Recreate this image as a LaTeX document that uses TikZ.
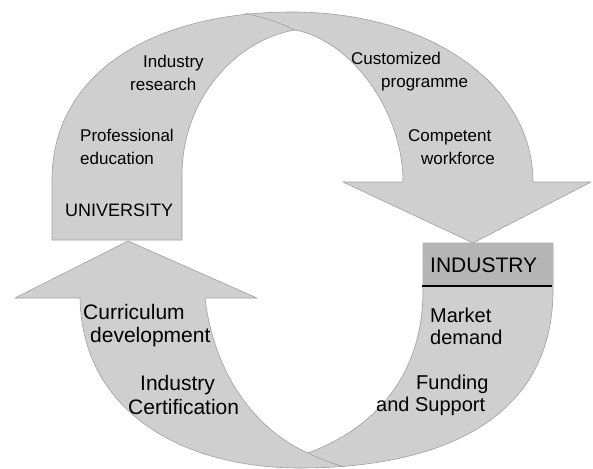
\documentclass[tikz,border=0pt]{standalone}
\usepackage{fontspec}
\setmainfont{Liberation Sans}
\usetikzlibrary{positioning}
\begin{document}
\begin{tikzpicture}[x=1pt,y=-1pt,
    band/.style={fill=gray!38,draw=gray!75,line width=0.6pt,line join=round},
    lbl/.style={anchor=west,align=left,inner sep=0pt,font=\fontsize{17}{23}\selectfont},
    big/.style={anchor=west,align=left,inner sep=0pt,font=\fontsize{20}{22}\selectfont}]
    \useasboundingbox (0,0) rectangle (593,468);

    % upper arrow: university -> industry
    \draw[band] (52,240) -- (52,180) .. controls (52,75) and (150,12) .. (292,12)
        .. controls (430,12) and (533,85) .. (533,182) -- (591,182) -- (473,243)
        -- (343,182) -- (403,182) .. controls (403,110) and (350,40) .. (295,30)
        .. controls (235,40) and (182,100) .. (182,175) -- (182,240) -- cycle;
    \coordinate (tapex) at (295,30);
    \coordinate (ttop) at (245,13);
    \draw[gray!75,line width=0.6pt] (tapex) .. controls (275,21) .. (ttop);

    % lower arrow: industry -> university
    \draw[band] (423,243) -- (553,243) -- (553,290) .. controls (553,420) and (440,468) .. (300,468)
        .. controls (180,468) and (82,410) .. (80,298) -- (15,298) -- (128,241)
        -- (257,298) -- (205,298) .. controls (215,380) and (260,432) .. (308,453)
        .. controls (370,430) and (423,380) .. (423,290) -- cycle;
    \coordinate (bapex) at (308,453);
    \coordinate (bbot) at (345,467);
    \draw[gray!75,line width=0.6pt] (bapex) .. controls (325,461) .. (bbot);

    % industry box
    \fill[gray!58] (423,243) rectangle (553,286);
    \draw[line width=1.4pt] (422,286) -- (552,286);

    \node[lbl] (indres) at (130,73) {\hspace*{13pt}Industry\\research};
    \node[lbl] (profedu) at (80,147) {Professional\\education};
    \node[lbl,font=\fontsize{18}{22}\selectfont] (univ) at (65,210) {UNIVERSITY};
    \node[lbl] (custprog) at (351,72) {Customized\\\hspace*{30pt}programme};
    \node[lbl] (compwork) at (408,147) {Competent\\\hspace*{13pt}workforce};

    \node[big,font=\fontsize{21}{23}\selectfont] (indus) at (430,265) {INDUSTRY};
    \node[big] (mktdem) at (430,326) {Market\\demand};
    \node[big] (fundsup) at (376,395) {\hspace*{40pt}Funding\\and Support};
    \node[big,font=\fontsize{21}{23}\selectfont] (curdev) at (83,326) {Curriculum\\\hspace*{7pt}development};
    \node[big,font=\fontsize{21}{24}\selectfont] (indcert) at (128,395) {\hspace*{12pt}Industry\\Certification};
\end{tikzpicture}
\end{document}
